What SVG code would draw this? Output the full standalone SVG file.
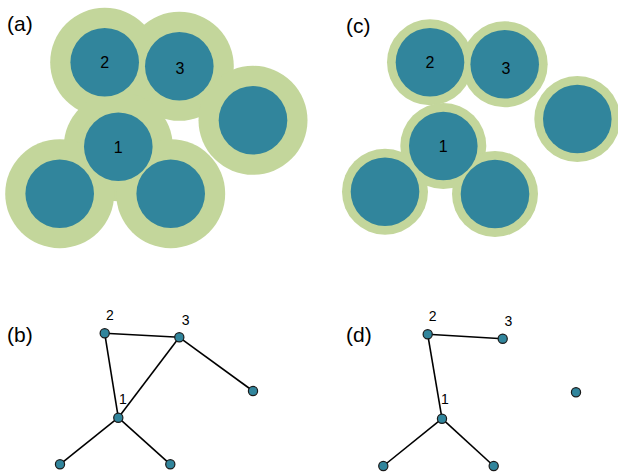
<svg xmlns="http://www.w3.org/2000/svg" width="618" height="473" viewBox="0 0 618 473">
<style>
.g{fill:#c3d69b}
.b{fill:#31859c}
.n{fill:#31859c;stroke:#1a1a1a;stroke-width:1.2}
.e{stroke:#000;stroke-width:1.6;fill:none}
.pl{font-family:"Liberation Sans",Arial,sans-serif;font-size:21px;fill:#000}
.cl{font-family:"Liberation Sans",Arial,sans-serif;font-size:16px;fill:#000;text-anchor:middle}
.nl{font-family:"Liberation Sans",Arial,sans-serif;font-size:14px;fill:#000;text-anchor:middle}
</style>
<rect width="618" height="473" fill="#fff"/>

<text class="pl" x="7" y="31">(a)</text>
<text class="pl" x="346" y="33">(c)</text>
<text class="pl" x="7" y="342">(b)</text>
<text class="pl" x="346" y="342">(d)</text>

<g id="panel-a">
<g id="a-halos">
<circle class="g" cx="104.7" cy="62.3" r="54.5"/>
<circle class="g" cx="179.3" cy="66.3" r="54.5"/>
<circle class="g" cx="253" cy="120.3" r="54.5"/>
<circle class="g" cx="118.3" cy="146.7" r="54.5"/>
<circle class="g" cx="59.7" cy="193.7" r="54.5"/>
<circle class="g" cx="170.7" cy="193.7" r="54.5"/>
</g>
<g id="a-node2"><circle class="b" cx="104.7" cy="62.3" r="34.3"/><text class="cl" x="104.7" y="68">2</text></g>
<g id="a-node3"><circle class="b" cx="179.3" cy="66.3" r="34.3"/><text class="cl" x="180" y="74">3</text></g>
<g id="a-node4"><circle class="b" cx="253" cy="120.3" r="34.3"/></g>
<g id="a-node1"><circle class="b" cx="118.3" cy="146.7" r="34.3"/><text class="cl" x="118.3" y="152.5">1</text></g>
<g id="a-node5"><circle class="b" cx="59.7" cy="193.7" r="34.3"/></g>
<g id="a-node6"><circle class="b" cx="170.7" cy="193.7" r="34.3"/></g>
</g>

<g id="panel-c">
<g id="c-halos">
<circle class="g" cx="430" cy="62.3" r="43"/>
<circle class="g" cx="504.7" cy="64.3" r="43"/>
<circle class="g" cx="577.3" cy="119" r="43"/>
<circle class="g" cx="443.3" cy="146" r="43"/>
<circle class="g" cx="385" cy="191.7" r="43"/>
<circle class="g" cx="495" cy="194" r="43"/>
</g>
<g id="c-node2"><circle class="b" cx="430" cy="62.3" r="34.3"/><text class="cl" x="430" y="68">2</text></g>
<g id="c-node3"><circle class="b" cx="504.7" cy="64.3" r="34.3"/><text class="cl" x="506" y="74">3</text></g>
<g id="c-node4"><circle class="b" cx="577.3" cy="119" r="34.3"/></g>
<g id="c-node1"><circle class="b" cx="443.3" cy="146" r="34.3"/><text class="cl" x="443.3" y="152">1</text></g>
<g id="c-node5"><circle class="b" cx="385" cy="191.7" r="34.3"/></g>
<g id="c-node6"><circle class="b" cx="495" cy="194" r="34.3"/></g>
</g>

<g id="connectors">
<line class="e" x1="104.7" y1="333.3" x2="179.3" y2="337.3"/>
<line class="e" x1="104.7" y1="333.3" x2="118.3" y2="417.7"/>
<line class="e" x1="179.3" y1="337.3" x2="118.3" y2="417.7"/>
<line class="e" x1="179.3" y1="337.3" x2="253" y2="391"/>
<line class="e" x1="118.3" y1="417.7" x2="60" y2="464.3"/>
<line class="e" x1="118.3" y1="417.7" x2="170.3" y2="464.3"/>
<line class="e" x1="427.7" y1="334.3" x2="502.7" y2="338.7"/>
<line class="e" x1="427.7" y1="334.3" x2="442" y2="418.7"/>
<line class="e" x1="442" y1="418.7" x2="383.3" y2="466"/>
<line class="e" x1="442" y1="418.7" x2="493.7" y2="466"/>
</g>

<g id="b-node2"><circle class="n" cx="104.7" cy="333.3" r="4.6"/><text class="nl" x="110" y="320">2</text></g>
<g id="b-node3"><circle class="n" cx="179.3" cy="337.3" r="4.6"/><text class="nl" x="185.7" y="325">3</text></g>
<g id="b-node4"><circle class="n" cx="253" cy="391" r="4.6"/></g>
<g id="b-node1"><circle class="n" cx="118.3" cy="417.7" r="4.6"/><text class="nl" x="123" y="403.5">1</text></g>
<g id="b-node5"><circle class="n" cx="60" cy="464.3" r="4.6"/></g>
<g id="b-node6"><circle class="n" cx="170.3" cy="464.3" r="4.6"/></g>

<g id="d-node2"><circle class="n" cx="427.7" cy="334.3" r="4.6"/><text class="nl" x="432.7" y="320.7">2</text></g>
<g id="d-node3"><circle class="n" cx="502.7" cy="338.7" r="4.6"/><text class="nl" x="508.3" y="326">3</text></g>
<g id="d-node4"><circle class="n" cx="576" cy="392.3" r="4.6"/></g>
<g id="d-node1"><circle class="n" cx="442" cy="418.7" r="4.6"/><text class="nl" x="445" y="403.5">1</text></g>
<g id="d-node5"><circle class="n" cx="383.3" cy="466" r="4.6"/></g>
<g id="d-node6"><circle class="n" cx="493.7" cy="466" r="4.6"/></g>
</svg>
